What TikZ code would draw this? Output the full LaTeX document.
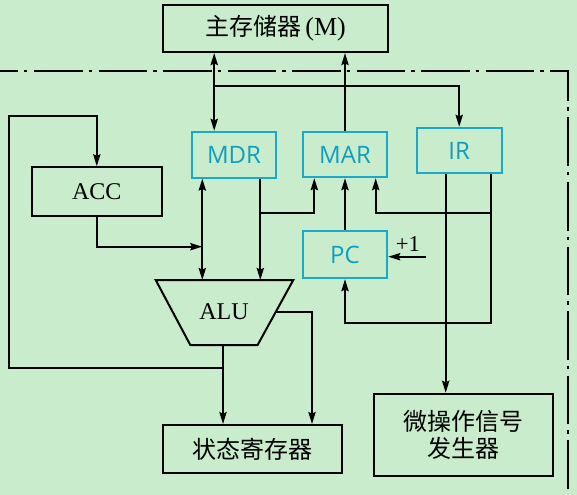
\documentclass[tikz,border=0pt]{standalone}
\usepackage{fontspec}
\setmainfont{Liberation Serif}
\newfontfamily\cjkfont{Noto Sans CJK SC}
\newfontfamily\regfont{Open Sans}
\usetikzlibrary{arrows.meta}
\definecolor{bg}{RGB}{200,236,204}
\definecolor{regtext}{RGB}{16,158,190}
\definecolor{regedge}{RGB}{24,170,200}
\begin{document}
\begin{tikzpicture}[x=0.75pt,y=-0.75pt,
  >={Stealth[length=9pt,width=5.4pt,inset=1.2pt]},
  wire/.style={line width=1.5pt,black,line join=miter},
  blkbox/.style={draw=black,line width=1.5pt,inner sep=0pt,font=\fontsize{18pt}{20pt}\selectfont},
  regbox/.style={draw=regedge,line width=1.3pt,inner sep=0pt,text=regtext,
    font=\regfont\fontsize{18pt}{20pt}\selectfont,
    minimum width=63.45pt,minimum height=34.5pt},
  border/.style={line width=1.5pt,dash pattern=on 36.4pt off 4.5pt on 2.6pt off 4.9pt,dash phase=22.9pt}
]
\fill[bg] (0,0) rectangle (577,495);
\useasboundingbox (0,0) rectangle (577,495);

% CPU boundary
\draw[border] (0,70.7) -| (568,495);

% main memory and control units
\node[blkbox,minimum width=168.75pt,minimum height=35.6pt] (mem) at (275.5,28.3) {\cjkfont 主存储器\rmfamily\fontsize{19.5pt}{20pt}\selectfont\,(M)};
\node[blkbox,minimum width=97.3pt,minimum height=36.3pt] (acc) at (96.8,191.5) {ACC};
\node[blkbox,minimum width=134.5pt,minimum height=35.8pt] (status) at (252.7,448.9) {\cjkfont 状态寄存器};
\node[blkbox,minimum width=134.4pt,minimum height=61.7pt,align=center,
  font=\cjkfont\fontsize{18pt}{20.3pt}\selectfont] (micro) at (463.2,434.9) {微操作信号\\发生器};

% registers
\node[regbox] (mdr) at (234,154.7) {MDR};
\node[regbox,minimum height=34.2pt] (mar) at (345,154.5) {MAR};
\node[regbox,minimum width=63.75pt,minimum height=34.2pt] (ir) at (459.2,150.5) {IR};
\node[regbox,minimum height=35.7pt] (pc) at (345,254.5) {PC};

% ALU
\coordinate (alutl) at (155.7,280);
\coordinate (alutr) at (293.3,280);
\coordinate (alubr) at (257.6,345);
\coordinate (alubl) at (190.3,345);
\coordinate (aluout) at (275.7,312);
\draw[wire] (alutl) -- (alutr) -- (alubr) -- (alubl) -- cycle;
\node[font=\fontsize{18pt}{20pt}\selectfont] (alu) at (224,312) {ALU};

% columns and rows of the wiring
\coordinate (busL) at (214.2,86);
\coordinate (aluA) at (202.3,246.7);
\coordinate (aluB) at (260.3,213.3);
\coordinate (marL) at (314.3,0);
\coordinate (marR) at (375.7,0);
\coordinate (irL) at (445.7,0);
\coordinate (irR) at (490.7,213.3);
\coordinate (pcrow) at (0,322.7);
\coordinate (loopX) at (9.3,115.7);
\coordinate (aluO) at (223,368);
\coordinate (aluR) at (312,0);
\coordinate (inc) at (426,256.7);

% memory bus
\draw[wire,<->] (mdr.north -| busL) -- (mem.south -| busL);
\draw[wire,->] (busL) -| (ir.north);
\draw[wire,->] (mar.north) -- (mem.south -| mar.north);

% accumulator loop
\draw[wire,->] (aluO) -| (loopX) -| (acc.north);
\draw[wire,->] (acc.south) |- (aluA);

% MDR to ALU and MAR
\draw[wire,<->] (mdr.south -| aluA) -- (alutl -| aluA);
\draw[wire,->] (mdr.south -| aluB) -- (alutl -| aluB);
\draw[wire,->] (aluB) -| (mar.south -| marL);

% PC and IR
\draw[wire,->] (pc.north) -- (mar.south);
\draw[wire,->] (irR) -| (mar.south -| marR);
\draw[wire,->] (ir.south -| irR) |- (pcrow -| pc.south) -- (pc.south);
\draw[wire,->] (ir.south -| irL) -- (micro.north -| irL);
\draw[wire,->] (inc) -- (pc.east |- inc);
\node[font=\fontsize{17pt}{20pt}\selectfont] (plus) at (408,244) {+1};

% ALU outputs
\draw[wire,->] (alubl -| aluO) -- (status.north -| aluO);
\draw[wire,->] (aluout) -| (status.north -| aluR);
\end{tikzpicture}
\end{document}
